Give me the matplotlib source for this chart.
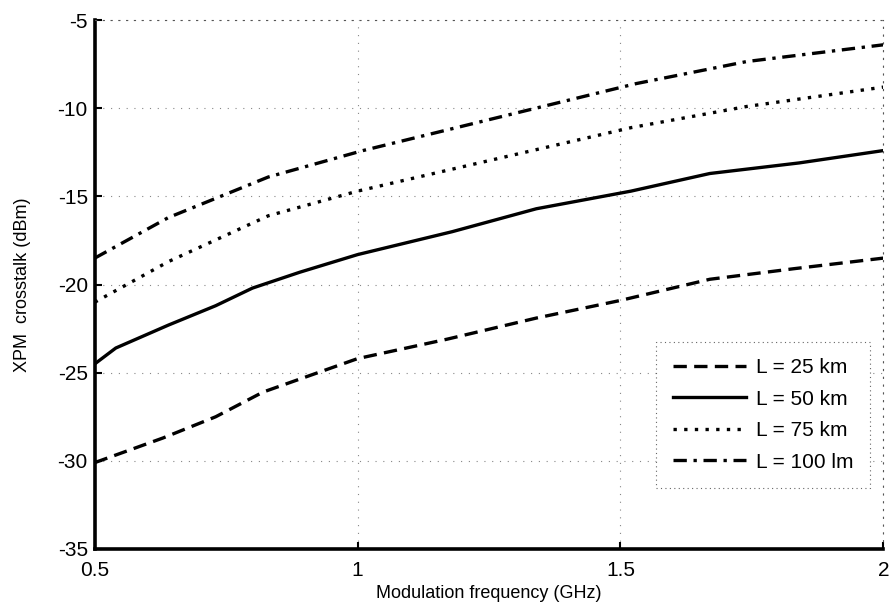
import matplotlib
matplotlib.use("Agg")
import matplotlib.pyplot as plt

plt.rcParams['font.family'] = ['Liberation Sans', 'DejaVu Sans']

# XPM crosstalk versus modulation frequency for several fibre lengths
f_25 = [0.50, 0.63, 0.73, 0.82, 1.00, 1.17, 1.34, 1.50, 1.67, 1.83, 2.00]
p_25 = [-30.1, -28.7, -27.5, -26.1, -24.2, -23.1, -21.9, -20.9, -19.7, -19.1, -18.5]

f_50 = [0.50, 0.54, 0.64, 0.73, 0.80, 0.89, 1.00, 1.18, 1.34, 1.52, 1.67, 1.84, 2.00]
p_50 = [-24.5, -23.6, -22.3, -21.2, -20.2, -19.3, -18.3, -17.0, -15.7, -14.7, -13.7, -13.1, -12.4]

f_75 = [0.50, 0.64, 0.83, 1.00, 1.52, 1.74, 2.00]
p_75 = [-21.0, -18.7, -16.1, -14.7, -11.1, -9.9, -8.8]

f_100 = [0.50, 0.64, 0.83, 1.01, 1.53, 1.74, 2.00]
p_100 = [-18.5, -16.2, -13.9, -12.4, -8.6, -7.35, -6.4]

labels = ["L = 25 km", "L = 50 km", "L = 75 km", "L = 100 lm"]
x_ticks = [0.5, 1, 1.5, 2]
y_ticks = [-35, -30, -25, -20, -15, -10, -5]

fig = plt.figure(figsize=(8.94, 6.10), dpi=100)
ax = fig.add_axes([0.106, 0.10, 0.882, 0.867])

lw = 2.4
ax.plot(f_25, p_25, color='black', lw=lw, linestyle=(0, (4, 2.2)), label=labels[0])
ax.plot(f_50, p_50, color='black', lw=lw, linestyle='-', label=labels[1])
ax.plot(f_75, p_75, color='black', lw=lw, linestyle=(0, (1, 2.2)), label=labels[2])
ax.plot(f_100, p_100, color='black', lw=lw, linestyle=(0, (4, 2, 1, 2)), label=labels[3])

ax.set_xlim(0.5, 2)
ax.set_ylim(-35, -5)
ax.set_xticks(x_ticks)
ax.set_xticklabels(["0.5", "1", "1.5", "2"])
ax.set_yticks(y_ticks)
ax.set_yticklabels([str(v) for v in y_ticks])

ax.grid(True, linestyle=(0, (1, 6)), color='#555555', lw=0.8, alpha=0.7)

for side in ('left', 'bottom'):
    ax.spines[side].set_linewidth(2.6)
    ax.spines[side].set_color('black')
for side in ('top', 'right'):
    ax.spines[side].set_linestyle((0, (1, 6)))
    ax.spines[side].set_linewidth(0.8)
    ax.spines[side].set_color('#555555')

ax.tick_params(axis='both', direction='in', length=5, width=1.5, labelsize=15,
               top=False, right=False)
ax.tick_params(axis='x', pad=9)
ax.tick_params(axis='y', pad=5)

ax.set_xlabel("Modulation frequency (GHz)", fontsize=13, labelpad=3)
ax.set_ylabel("XPM  crosstalk (dBm)", fontsize=13, labelpad=19)

leg = ax.legend(loc='lower right', bbox_to_anchor=(0.997, 0.095), fontsize=15,
                handlelength=3.5, handletextpad=0.5, labelspacing=0.6,
                borderpad=0.8, fancybox=False, framealpha=1)
frame = leg.get_frame()
frame.set_edgecolor('#666666')
frame.set_linestyle((0, (1, 3)))
frame.set_linewidth(0.8)

fig.savefig("out.png", dpi=100)
